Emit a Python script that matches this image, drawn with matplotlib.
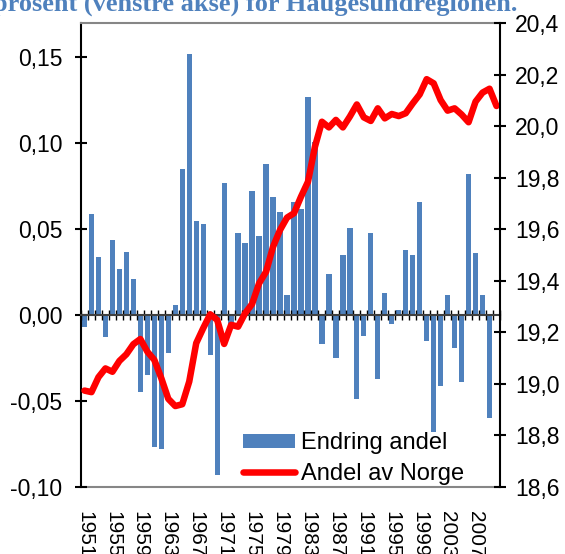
import numpy as np
import matplotlib
matplotlib.use('Agg')
import matplotlib.pyplot as plt
from matplotlib.ticker import FuncFormatter, FixedLocator

plt.rcParams['font.family'] = ['Liberation Sans', 'DejaVu Sans']

# Years on the category axis (line runs one year longer than the bars)
years = list(range(1951, 2011))

# Endring andel (left axis), 1951-2009
endring = [-0.007, 0.059, 0.034, -0.013, 0.044, 0.027, 0.037, 0.021, -0.045, -0.035,
           -0.077, -0.078, -0.022, 0.006, 0.085, 0.152, 0.055, 0.053, -0.023, -0.093,
           0.077, -0.006, 0.048, 0.042, 0.072, 0.046, 0.088, 0.069, 0.060, 0.012,
           0.066, 0.062, 0.127, 0.101, -0.017, 0.024, -0.025, 0.035, 0.051, -0.049,
           -0.012, 0.048, -0.037, 0.013, -0.005, 0.003, 0.038, 0.035, 0.066, -0.015,
           -0.068, -0.041, 0.012, -0.019, -0.039, 0.082, 0.036, 0.012, -0.060]

# Andel av Norge (right axis, prosent), 1951-2010
andel = [18.974, 18.968, 19.026, 19.060, 19.047, 19.089, 19.115, 19.154, 19.174, 19.125,
         19.093, 19.022, 18.942, 18.914, 18.921, 19.009, 19.158, 19.216, 19.270, 19.248,
         19.155, 19.229, 19.222, 19.274, 19.310, 19.390, 19.435, 19.532, 19.597, 19.645,
         19.662, 19.726, 19.784, 19.920, 20.017, 19.995, 20.024, 19.995, 20.037, 20.084,
         20.034, 20.020, 20.069, 20.030, 20.047, 20.039, 20.050, 20.088, 20.123, 20.182,
         20.166, 20.101, 20.060, 20.069, 20.045, 20.015, 20.095, 20.130, 20.145, 20.078]

left_ticks = np.linspace(-0.10, 0.15, 6)
right_ticks = np.linspace(18.6, 20.4, 10)


def komma(dec):
    def f(v, pos):
        if abs(v) < 1e-9:
            v = 0.0
        return f'{v:.{dec}f}'.replace('.', ',')
    return FuncFormatter(f)


fig = plt.figure(figsize=(5.65, 5.54), dpi=100)
ax = fig.add_axes([81 / 565, 1 - 487 / 554, 419 / 565, 464 / 554])

x = np.arange(len(years))
ax.bar(x[:len(endring)], endring, width=0.76, color='#4F81BD',
       label='Endring andel', zorder=1)
ax.set_xlim(-0.5, len(years) - 0.5)
ax.set_ylim(-0.10, 0.17)
ax.yaxis.set_major_locator(FixedLocator(left_ticks))
ax.yaxis.set_major_formatter(komma(2))

# zero line acts as category axis, ticks between categories
ax.spines['bottom'].set_position(('data', 0))
ax.spines['bottom'].set_color('#404040')
ax.spines['bottom'].set_linewidth(1.5)
ax.spines['right'].set_visible(False)
ax.spines['top'].set_color('#868686')
ax.spines['top'].set_linewidth(1.5)
ax.spines['left'].set_linewidth(1.5)
ax.set_xticks(np.arange(len(years) + 1) - 0.5)
ax.tick_params(axis='x', direction='inout', length=7, width=1,
               color='black', labelbottom=False)
ax.tick_params(axis='y', direction='inout', length=9, width=1.5,
               labelsize=16.5, pad=9)

# year labels at the bottom of the plot area
sec = ax.secondary_xaxis('bottom')
sec.set_xticks(x[::4], labels=[str(y) for y in years[::4]])
sec.tick_params(length=0, labelsize=15, pad=17, labelrotation=270)
sec.spines['bottom'].set_color('#868686')
sec.spines['bottom'].set_linewidth(1.5)

ax2 = ax.twinx()
ax2.plot(x, andel, color='#FF0000', lw=4.7, solid_joinstyle='round',
         solid_capstyle='round', label='Andel av Norge')
ax2.set_ylim(18.6, 20.4)
ax2.yaxis.set_major_locator(FixedLocator(right_ticks))
ax2.yaxis.set_major_formatter(komma(1))
for s in ['left', 'top', 'bottom']:
    ax2.spines[s].set_visible(False)
ax2.spines['right'].set_linewidth(1.5)
ax2.tick_params(axis='y', direction='inout', length=9, width=1.5,
                labelsize=16.5, pad=6.5)

h1, l1 = ax.get_legend_handles_labels()
h2, l2 = ax2.get_legend_handles_labels()
ax2.legend(h1 + h2, l1 + l2, loc='lower left', bbox_to_anchor=(0.387, 0.005),
           frameon=False, fontsize=17, handlelength=2.2, handleheight=0.55,
           handletextpad=0.25, labelspacing=0.35, borderpad=0, borderaxespad=0)

fig.text(-0.012, 1 - 11 / 554, 'prosent (venstre akse) for Haugesundregionen.',
         family=['Liberation Serif', 'DejaVu Serif'], fontweight='bold',
         fontsize=19, color='#4F81BD', va='baseline', ha='left')

fig.savefig('out.png', dpi=100)
